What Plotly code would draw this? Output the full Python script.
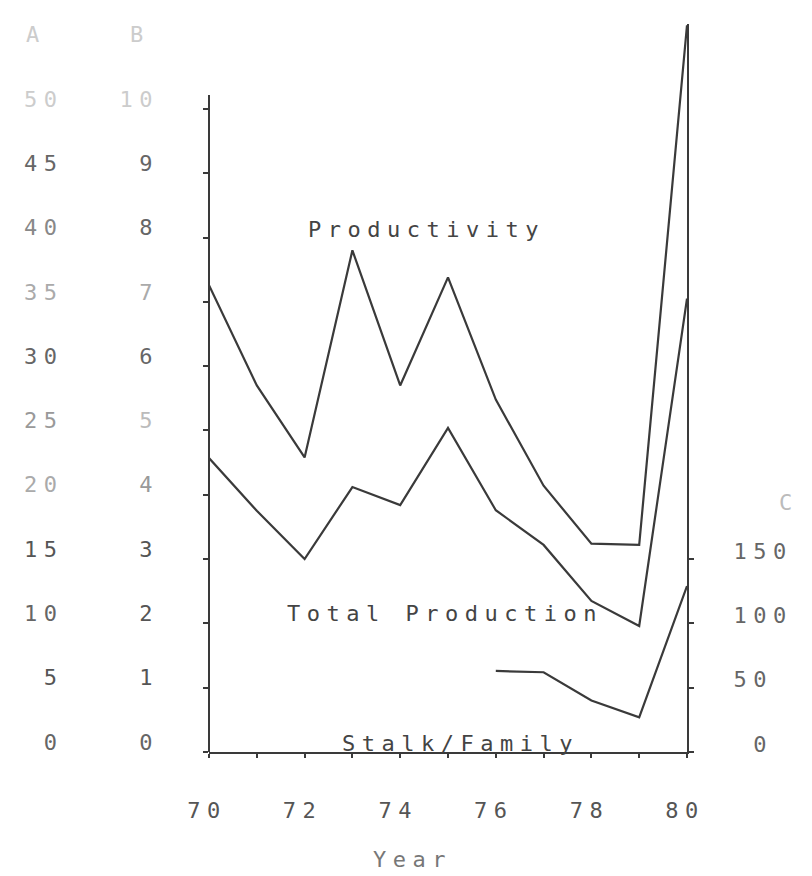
import plotly.graph_objects as go

# ---------------- data ----------------
years = [70, 71, 72, 73, 74, 75, 76, 77, 78, 79, 80]
productivity = [36.3, 28.5, 22.9, 39.0, 28.5, 36.9, 27.4, 20.7, 16.2, 16.1, 56.5]      # axis A
total_production = [4.57, 3.75, 3.0, 4.12, 3.84, 5.04, 3.76, 3.22, 2.35, 1.96, 7.05]  # axis B
stalk_years = [76, 77, 78, 79, 80]
stalk_per_family = [63, 62, 40, 27, 129]                                               # axis C

a_ticks = [0, 5, 10, 15, 20, 25, 30, 35, 40, 45, 50]
a_labels = ["0", "5", "10", "15", "20", "25", "30", "35", "40", "45", "50"]
b_ticks = [0, 1, 2, 3, 4, 5, 6, 7, 8, 9, 10]
b_labels = ["0", "1", "2", "3", "4", "5", "6", "7", "8", "9", "10"]
c_ticks = [0, 50, 100, 150]
c_labels = ["\u00a00", "50", "100", "150"]
x_ticks = [70, 71, 72, 73, 74, 75, 76, 77, 78, 79, 80]
x_labels = ["70", "", "72", "", "74", "", "76", "", "78", "", "80"]

# ---------------- style ----------------
FONT = "DejaVu Sans Mono"
FS = 22
LS = "6.5px"
INK = "#3a3a3a"
a_colors = ["#666", "#555", "#666", "#555", "#aaa", "#999", "#666", "#aaa", "#888", "#666", "#ccc"]
b_colors = ["#666", "#555", "#555", "#555", "#999", "#bbb", "#666", "#aaa", "#666", "#666", "#ccc"]


def sp(t, color="#555"):
    return f'<span style="letter-spacing:{LS};color:{color}">{t}</span>'


W, H = 812, 876
L, R, T, B = 201, 133, 16, 132
PW, PH = W - L - R, H - T - B
A_MAX = 56.6


def px_x(p):
    return (p - L) / PW


def px_y(p):
    return (H - B - p) / PH


fig = go.Figure()
fig.add_trace(go.Scatter(x=years, y=productivity, mode="lines", yaxis="y",
                         line=dict(color=INK, width=2.2), name="Productivity"))
fig.add_trace(go.Scatter(x=years, y=total_production, mode="lines", yaxis="y2",
                         line=dict(color=INK, width=2.2), name="Total Production"))
fig.add_trace(go.Scatter(x=stalk_years, y=stalk_per_family, mode="lines", yaxis="y3",
                         line=dict(color=INK, width=2.2), name="Stalk/Family"))

fig.update_layout(
    width=W, height=H,
    margin=dict(l=L, r=R, t=T, b=B, pad=0),
    paper_bgcolor="white", plot_bgcolor="white",
    showlegend=False,
    font=dict(family=FONT, size=FS, color="#555"),
    xaxis=dict(range=[70, 80], showgrid=False, zeroline=False,
               showline=True, linecolor=INK, linewidth=2,
               ticks="outside", ticklen=4, tickwidth=2, tickcolor=INK,
               tickvals=x_ticks, ticktext=[sp(t) for t in x_labels],
               ticklabelstandoff=34, ticklabelshift=-2),
    yaxis=dict(range=[0, A_MAX], showgrid=False, zeroline=False, showline=False,
               ticks="outside", ticklen=5, tickwidth=2, tickcolor=INK,
               tickvals=a_ticks, ticktext=[sp(t, c) for t, c in zip(a_labels, a_colors)],
               ticklabelstandoff=135, ticklabelshift=-10),
    yaxis2=dict(range=[0, A_MAX / 5], overlaying="y", side="left", anchor="x",
                showgrid=False, zeroline=False, showline=False, ticks="",
                tickvals=b_ticks, ticktext=[sp(t, c) for t, c in zip(b_labels, b_colors)],
                ticklabelstandoff=49, ticklabelshift=-10),
    yaxis3=dict(range=[0, A_MAX * 10], overlaying="y", side="right", anchor="x",
                showgrid=False, zeroline=False, showline=True, linecolor=INK, linewidth=2,
                ticks="outside", ticklen=5, tickwidth=2, tickcolor=INK,
                tickvals=c_ticks, ticktext=[sp(t, "#666") for t in c_labels],
                ticklabelstandoff=35, ticklabelshift=-8),
)

# left axis line (stops a little above the 50 tick)
fig.add_shape(type="line", xref="paper", yref="paper", x0=0, x1=0,
              y0=0, y1=px_y(87), line=dict(color=INK, width=2))

# series labels
fig.add_annotation(x=72.02, y=40.6, xref="x", yref="y", text=sp("Productivity", "#444"),
                   showarrow=False, xanchor="left", yanchor="middle")
fig.add_annotation(x=71.59, y=10.73, xref="x", yref="y", text=sp("Total Production", "#444"),
                   showarrow=False, xanchor="left", yanchor="middle")
fig.add_annotation(x=72.74, y=0.65, xref="x", yref="y", text=sp("Stalk/Family", "#444"),
                   showarrow=False, xanchor="left", yanchor="middle")

# axis names
fig.add_annotation(x=px_x(28), y=px_y(27), xref="paper", yref="paper", text=sp("A", "#ccc"),
                   showarrow=False, xanchor="center", yanchor="middle")
fig.add_annotation(x=px_x(132), y=px_y(27), xref="paper", yref="paper", text=sp("B", "#ccc"),
                   showarrow=False, xanchor="center", yanchor="middle")
fig.add_annotation(x=px_x(781), y=px_y(494), xref="paper", yref="paper", text=sp("C", "#bbb"),
                   showarrow=False, xanchor="center", yanchor="middle")
fig.add_annotation(x=px_x(404), y=px_y(851), xref="paper", yref="paper", text=sp("Year", "#777"),
                   showarrow=False, xanchor="center", yanchor="middle", borderpad=0)

fig.write_html("out.html")
